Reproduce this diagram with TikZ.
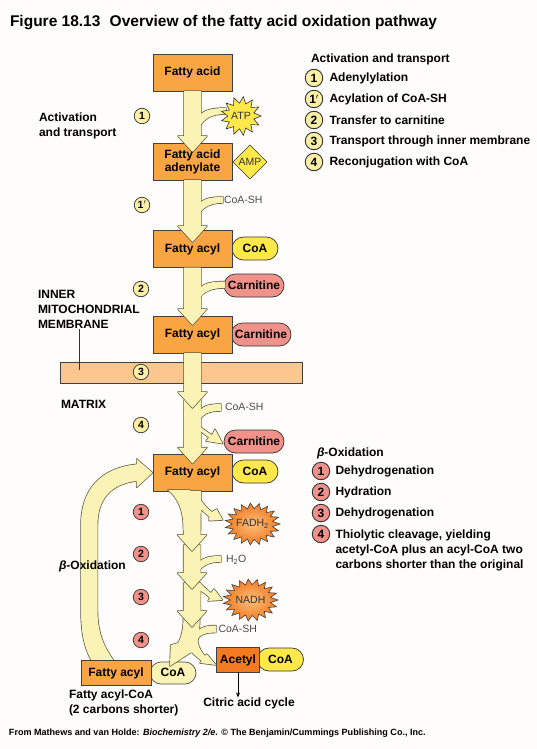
\documentclass[tikz,border=0pt]{standalone}
\usepackage{fontspec}
\setmainfont{Liberation Sans}
\usetikzlibrary{calc,shapes.misc,arrows.meta}
\definecolor{paper}{HTML}{FFFDFB}
\definecolor{boxor}{HTML}{F9A544}
\definecolor{deepor}{HTML}{F27A20}
\definecolor{pale}{HTML}{FBF3B6}
\definecolor{edgec}{HTML}{57543A}
\definecolor{yel}{HTML}{FFE84A}
\definecolor{pinkc}{HTML}{F1928A}
\definecolor{stepyel}{HTML}{FBEFA6}
\definecolor{membr}{HTML}{FBC78F}
\definecolor{greyt}{HTML}{4A4A4A}
\tikzset{
  every node/.style={font=\bfseries\fontsize{12}{15}\selectfont,inner sep=0pt,outer sep=0pt},
  edgeline/.style={draw=edgec,line width=1.4pt,line join=round},
  bandfill/.style={fill=pale},
  orbox/.style={draw=black!75,line width=.7pt,fill=boxor,minimum width=79pt,minimum height=37pt},
  pill/.style={rounded rectangle,draw=black!80,line width=.7pt,minimum height=23pt},
  coapill/.style={pill,fill=yel,minimum width=46pt},
  carnpill/.style={pill,fill=pinkc,minimum width=60pt},
  stepbase/.style={circle,draw=black!80,line width=.7pt,font=\bfseries\fontsize{10.5}{12}\selectfont},
  stepa/.style={stepbase,fill=stepyel,minimum size=15.5pt},
  stepb/.style={stepbase,fill=pinkc,minimum size=15.5pt},
  lega/.style={stepbase,fill=stepyel,minimum size=17.5pt,line width=.9pt,font=\bfseries\fontsize{12}{12}\selectfont},
  legb/.style={stepbase,fill=pinkc,minimum size=17.5pt,line width=.9pt,font=\bfseries\fontsize{12}{12}\selectfont},
  lbl/.style={anchor=west,align=left},
  small/.style={font=\fontsize{10.5}{12}\selectfont,text=greyt,anchor=west},
  bursttext/.style={font=\fontsize{10.5}{12}\selectfont,text=black!80},
}
% fat arrow: stem from #1 to tip #2
\newcommand\fatshape[2]{([xshift=-8.5pt]#1) -- ([xshift=8.5pt]#1) -- ($(#2)+(8.5,-16)$) -- ($(#2)+(14.5,-16)$) -- (#2) -- ($(#2)+(-14.5,-16)$) -- ($(#2)+(-8.5,-16)$) -- cycle}
\newcommand\fatgroup[1]{%
  \def\piece##1{\draw[edgeline] ##1;}#1%
  \def\piece##1{\fill[bandfill] ##1;}#1}
% spiky burst: centre, rx, ry, half number of points, ratio, style
\newcommand\burst[7]{%
  \path[#7] plot[samples=#5*2+1,domain=0:#5*2] ({#1+#3*(1-(1-#6)*mod(round(\x),2))*cos(\x*180/#5)},{#2+#4*(1-(1-#6)*mod(round(\x),2))*sin(\x*180/#5)}) -- cycle;}
\begin{document}
\begin{tikzpicture}[x=1pt,y=-1pt]
\useasboundingbox (0,0) rectangle (537,749);
\fill[paper] (0,0) rectangle (537,749);

% title and footer
\node[anchor=west,font=\bfseries\fontsize{15.5}{18}\selectfont] (title) at (10,23) {Figure 18.13\hspace{.6em}Overview of the fatty acid oxidation pathway};
\node[anchor=west,font=\bfseries\fontsize{9.05}{11}\selectfont] (foot) at (9,733) {From Mathews and van Holde: \textit{Biochemistry 2/e.} © The Benjamin/Cummings Publishing Co., Inc.};

% membrane
\node[draw=black!75,line width=.7pt,fill=membr,minimum width=242pt,minimum height=21pt] (memb) at (181,372.5) {};

% beta-oxidation return loop (behind the boxes)
\fatgroup{\piece{(136.7,464.3) .. controls (100,468) and (81,490) .. (81,525) -- (81,610) .. controls (81,635) and (85,652) .. (95,666) -- (118,666) .. controls (105,650) and (97.5,635) .. (97.5,610) -- (97.5,525) .. controls (97.5,500) and (110,484) .. (136.7,481) -- (136.7,487.3) -- (152.5,472.7) -- (136.7,459) -- cycle}}

% pills
\node[coapill] (coa1) at (255,248.5) {CoA};
\node[carnpill] (car1) at (254,285.5) {Carnitine};
\node[carnpill] (car2) at (261,334.5) {Carnitine};
\node[carnpill] (car3) at (254,441.5) {Carnitine};
\node[coapill] (coa2) at (255,471.5) {CoA};
\node[pill,draw=black!70,fill=pale,minimum width=46pt,minimum height=22pt] (coa3) at (173,673) {};
\node[coapill] (coa4) at (280.5,659.5) {CoA};

% boxes
\node[orbox] (fa1) at (192.5,72.5) {};
\node[orbox] (fa2) at (192.5,161.5) {};
\node[orbox] (fa3) at (192.5,249) {};
\node[orbox] (fa4) at (192.5,334.5) {};
\node[orbox] (fa5) at (192.5,472.5) {};
\node[orbox,minimum width=70pt,minimum height=24.5pt] (fa6) at (116,673) {};
\node[draw=black!75,line width=.7pt,fill=deepor,minimum width=42.5pt,minimum height=24.5pt] (acetyl) at (238,660) {Acetyl};

% tips and joints
\coordinate (t1) at (192.5,152);
\coordinate (t2) at (192.5,242);
\coordinate (t3) at (192.5,325);
\coordinate (t4) at (192.5,408);
\coordinate (j5) at (192.5,400);
\coordinate (t5) at (192.5,463.5);
\coordinate (t6) at (192,551);
\coordinate (j7) at (192,545);
\coordinate (t7) at (192,589);
\coordinate (j8) at (192,583);
\coordinate (t8) at (192,627);

% step 4 of the oxidation: split to acyl-CoA and acetyl-CoA
\fatgroup{
 \piece{(193,630) -- (198.5,630) .. controls (196,640) and (198,648) .. (205,656) -- (206.7,654) -- (216,665) -- (200,663) -- (201.7,661) .. controls (197,657) and (194,655) .. (190,650) -- cycle}
 \piece{(216,625.5) .. controls (208,625.5) and (202,626) .. (197,632) -- (197,643) .. controls (197,636) and (203,632.5) .. (216,632.5) -- cycle}
 \piece{(183.5,615) -- (200,615) -- (199,636) -- (193,652) -- (190,653) -- (170,666) -- (170.7,645) -- (178,643) .. controls (182,636) and (183.5,628) .. (183.5,615) -- cycle}
}
% step 3
\fatgroup{
 \piece{(199,582) .. controls (202,585) and (206,589) .. (211,593) -- (214,589) -- (222.5,600) -- (208,601) -- (210,598) .. controls (206,594) and (203,592) .. (199,590) -- cycle}
 \piece{\fatshape{j8}{t8}}
}
% step 2
\fatgroup{
 \piece{(199,562) .. controls (204,557) and (211,556) .. (221,556) -- (221,562) .. controls (211,562) and (204,564) .. (199,571) -- cycle}
 \piece{\fatshape{j7}{t7}}
}
% step 1
\fatgroup{
 \piece{(199,497) .. controls (203,504) and (207,508) .. (212,512) -- (216.7,509) -- (222.7,520) -- (209,520.7) -- (209.5,517) .. controls (206,514) and (203,511) .. (199,508) -- cycle}
 \piece{(168,490) .. controls (178,498) and (183.5,510) .. (183.5,530) -- (190,530) -- (190,490) -- cycle}
 \piece{\fatshape{fa5.south}{t6}}
}
% reconjugation
\fatgroup{
 \piece{(199,413) .. controls (202,406) and (208,404) .. (221,404) -- (221,411) .. controls (208,411) and (203,414) .. (199,421) -- cycle}
 \piece{(199,425) .. controls (202,429) and (206,431) .. (212,435) -- (215,429.3) -- (222.7,443.7) -- (206,441) -- (209,437.5) .. controls (205,435) and (202,432) .. (199,430) -- cycle}
 \piece{\fatshape{j5}{t5}}
}
% transport
\fatgroup{\piece{\fatshape{fa4.south}{t4}}}
% transfer to carnitine
\fatgroup{
 \piece{(199,289) .. controls (204,283) and (212,281.5) .. (225,281.5) -- (225,288) .. controls (212,288) and (204,291) .. (199,299) -- cycle}
 \piece{\fatshape{fa3.south}{t3}}
}
% acylation
\fatgroup{
 \piece{(199,204) .. controls (204,198) and (212,197) .. (223,197) -- (223,203) .. controls (212,203) and (204,206) .. (199,214) -- cycle}
 \piece{\fatshape{fa2.south}{t2}}
}
% adenylylation
\fatgroup{
 \piece{(199,116) .. controls (204,110) and (212,108) .. (226,108) -- (226,114) .. controls (212,114) and (204,118) .. (199,128) -- cycle}
 \piece{\fatshape{fa1.south}{t1}}
}

% bursts and diamond
\burst{241}{116}{20}{19.5}{13}{.66}{fill=yel,draw=black!80,line width=.6pt}
\node[bursttext] (atp) at (241,116) {ATP};
\draw[fill=yel,draw=black!80,line width=.6pt] (250,145) -- (267,162) -- (250,179) -- (233,162) -- cycle;
\node[bursttext] (amp) at (250,162) {AMP};
\burst{252.5}{524}{27.5}{21}{19}{.74}{inner color=boxor!70!white,outer color=deepor,draw=black!75,line width=.6pt}
\node[bursttext] (fadh) at (252.5,524) {FADH\textsubscript{2}};
\burst{250.5}{600}{27.5}{21}{19}{.74}{inner color=boxor!70!white,outer color=deepor,draw=black!75,line width=.6pt}
\node[bursttext] (nadh) at (250.5,600) {NADH};

% box texts
\node (fa1t) at (fa1) {Fatty acid};
\node[align=center,font=\bfseries\fontsize{12}{13}\selectfont] (fa2t) at (fa2) {Fatty acid\\adenylate};
\node (fa3t) at (fa3) {Fatty acyl};
\node (fa4t) at (fa4) {Fatty acyl};
\node (fa5t) at (fa5) {Fatty acyl};
\node (fa6t) at (fa6) {Fatty acyl};
\node (coa3t) at (173,672) {CoA};

% reagents
\node[small] (r1) at (224,200) {CoA-SH};
\node[small] (r2) at (225,407) {CoA-SH};
\node[small] (r3) at (226,560) {H\textsubscript{2}O};
\node[small] (r4) at (218.5,629) {CoA-SH};

% step numbers
\node[stepa] (s1) at (142,116) {1};
\node[stepa] (s1p) at (142,205) {1$'$};
\node[stepa] (s2) at (141,289) {2};
\node[stepa] (s3) at (141,372) {3};
\node[stepa] (s4) at (141,425) {4};
\node[stepb] (b1) at (141,512) {1};
\node[stepb] (b2) at (141,554) {2};
\node[stepb] (b3) at (141,597) {3};
\node[stepb] (b4) at (141,640) {4};

% left labels
\node[lbl] (act) at (39,125.5) {Activation\\and transport};
\node[anchor=north west,align=left] (imm) at (38,290.5) {INNER\\MITOCHONDRIAL\\MEMBRANE};
\coordinate (mend) at (79,370);
\draw[line width=.6pt,draw=black!80] (imm.south -| mend) -- (mend);
\node[lbl] (matrix) at (61,404) {MATRIX};
\node[lbl] (boxid) at (59,566) {{\itshape β}-Oxidation};
\node[anchor=north west,align=left] (short) at (69,689.5) {Fatty acyl-CoA\\(2 carbons shorter)};
\node (citric) at (249,703) {Citric acid cycle};
\draw[line width=.6pt,-{Stealth[length=5pt,width=4pt]}] (acetyl.south) -- (acetyl.south |- citric.north);

% legend: activation and transport
\node[lbl] (la) at (311,59) {Activation and transport};
\node[lega] (l1) at (314,78) {1};
\node[lega] (l1p) at (314,99) {1$'$};
\node[lega] (l2) at (314,120) {2};
\node[lega] (l3) at (314,141) {3};
\node[lega] (l4) at (314,162) {4};
\node[lbl] (lt1) at (329.5,78) {Adenylylation};
\node[lbl] (lt1p) at (329.5,99) {Acylation of CoA-SH};
\node[lbl] (lt2) at (329.5,120) {Transfer to carnitine};
\node[lbl] (lt3) at (329.5,141) {Transport through inner membrane};
\node[lbl] (lt4) at (329.5,162) {Reconjugation with CoA};

% legend: beta oxidation
\node[lbl] (lb) at (317,453) {{\itshape β}-Oxidation};
\node[legb] (m1) at (321,471) {1};
\node[legb] (m2) at (321,492) {2};
\node[legb] (m3) at (321,513) {3};
\node[legb] (m4) at (321,534) {4};
\node[lbl] (mt1) at (335.5,471) {Dehydrogenation};
\node[lbl] (mt2) at (335.5,492) {Hydration};
\node[lbl] (mt3) at (335.5,513) {Dehydrogenation};
\node[anchor=north west,align=left] (mt4) at (335.5,530) {Thiolytic cleavage, yielding\\acetyl-CoA plus an acyl-CoA two\\carbons shorter than the original};
\end{tikzpicture}
\end{document}
